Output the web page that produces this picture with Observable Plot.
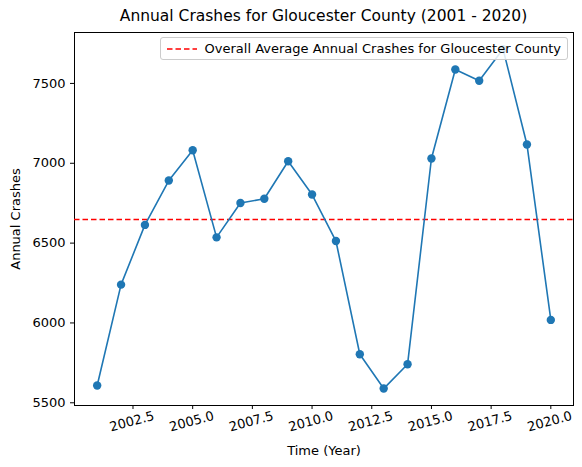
<!DOCTYPE html>
<html><head><meta charset="utf-8">
<script src="https://cdn.jsdelivr.net/npm/d3@7"></script>
<script src="https://cdn.jsdelivr.net/npm/@observablehq/plot@0.6"></script>
<style>
body{margin:0;background:#fff;font-family:"DejaVu Sans",sans-serif;}
#wrap{position:relative;width:582px;height:467px;}
#title{position:absolute;left:74px;width:499px;top:7px;text-align:center;font-size:15.5px;}
#chart{position:absolute;left:0;top:0;}
#legend{position:absolute;top:37px;right:14px;background:rgba(255,255,255,0.85);border:1px solid #ccc;border-radius:3px;padding:3px 6px;font-size:13px;display:flex;align-items:center;gap:8px;}
</style></head>
<body><div id="wrap"><div id="chart"></div><div id="title">Annual Crashes for Gloucester County (2001 - 2020)</div>
<div id="legend"><svg width="30" height="6"><line x1="0" y1="3" x2="30" y2="3" stroke="red" stroke-width="1.6" stroke-dasharray="5.5,3"/></svg>Overall Average Annual Crashes for Gloucester County</div></div>
<script>
const years = d3.range(2001, 2021);
const crashes = [5608, 6240, 6614, 6892, 7082, 6536, 6751, 6778, 7013, 6804, 6513, 5804, 5589, 5741, 7030, 7587, 7517, 7715, 7118, 6019];
const average = 6648;
const xTicks = [2002.5, 2005, 2007.5, 2010, 2012.5, 2015, 2017.5, 2020];
const yTicks = [5500, 6000, 6500, 7000, 7500];

const data = years.map((y, i) => ({year: y, crashes: crashes[i]}));

const chart = Plot.plot({
  width: 582, height: 467,
  marginLeft: 74, marginRight: 9, marginTop: 32, marginBottom: 62,
  style: {fontFamily: "DejaVu Sans", fontSize: "13px", color: "#000"},
  x: {domain: [2000.05, 2020.95]},
  y: {domain: [5483, 7819]},
  marks: [
    Plot.frame({stroke: "#000"}),
    Plot.axisX({ticks: xTicks, tickSize: 4, tickFormat: () => "", label: null}),
    Plot.text(xTicks, {x: d => d, frameAnchor: "bottom", dy: 20, rotate: -15, text: d3.format(".1f"), textAnchor: "middle", fontSize: 13}),
    Plot.text(["Time (Year)"], {frameAnchor: "bottom", dy: 49, fontSize: 13}),
    Plot.axisY({ticks: yTicks, tickSize: 4, tickFormat: d => String(d), label: "Annual Crashes", labelAnchor: "center", labelOffset: 64, labelArrow: false, fontSize: 13}),
    Plot.ruleY([average], {stroke: "red", strokeWidth: 1.6, strokeDasharray: "5.5,3"}),
    Plot.line(data, {x: "year", y: "crashes", stroke: "#1f77b4", strokeWidth: 1.6}),
    Plot.dot(data, {x: "year", y: "crashes", fill: "#1f77b4", r: 4.2})
  ]
});
document.getElementById("chart").append(chart);
</script></body></html>
